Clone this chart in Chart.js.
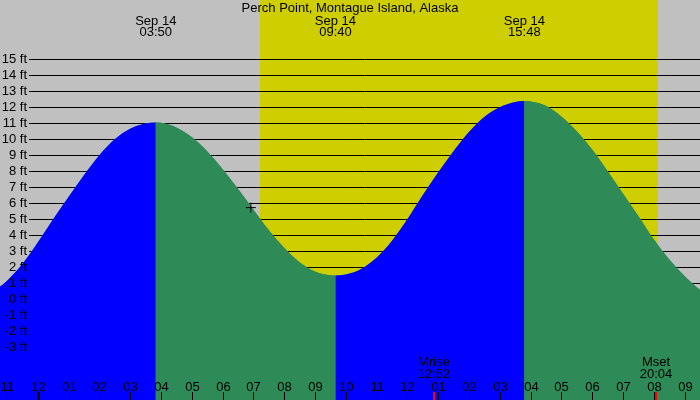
<!DOCTYPE html>
<html>
<head>
<meta charset="utf-8">
<title>Perch Point tides</title>
<script src="https://cdn.jsdelivr.net/npm/chart.js@4.4.1/dist/chart.umd.min.js"></script>
<style>
  html, body { margin: 0; padding: 0; background: #c0c0c0; }
  canvas { display: block; }
</style>
</head>
<body>
<canvas id="myChart" width="700" height="400"></canvas>
<script>
var title = 'Perch Point, Montague Island, Alaska';
var dateLabel = 'Sep 14';

// tide height in ft, time in hours from midnight Sep 14
var tideHours = [-1.5, -1, -0.5, 0, 0.5, 1, 1.5, 2, 2.5, 3, 3.5, 3.833,
    4, 4.5, 5, 5.5, 6, 6.5, 7, 7.5, 8, 8.5, 9, 9.5, 9.667,
    10, 10.5, 11, 11.5, 12, 12.5, 13, 13.5, 14, 14.5, 15, 15.5, 15.8,
    16, 16.5, 17, 17.5, 18, 18.5, 19, 19.5, 20, 20.5, 21, 21.5, 22];
var tideFeet = [0.4, 1.15, 2.2, 3.55, 5.0, 6.4, 7.75, 9.0, 10.0, 10.66, 10.99, 11.05,
    11.03, 10.74, 10.14, 9.25, 8.14, 6.91, 5.62, 4.33, 3.22, 2.32, 1.74, 1.5, 1.48,
    1.55, 1.9, 2.6, 3.65, 5.0, 6.5, 7.92, 9.25, 10.45, 11.4, 12.0, 12.33, 12.39,
    12.37, 12.1, 11.43, 10.51, 9.36, 8.02, 6.62, 5.21, 3.75, 2.5, 1.45, 0.6, 0.1];

// high / low tide times shown at the top
var extremeTimes = ['03:50', '09:40', '15:48'];

// hour ticks along the bottom, first one is 11 pm the day before
var firstHour = -1;
var hourLabels = ['11', '12', '01', '02', '03', '04', '05', '06', '07', '08', '09', '10',
    '11', '12', '01', '02', '03', '04', '05', '06', '07', '08', '09'];

var footLabels = [-3, -2, -1, 0, 1, 2, 3, 4, 5, 6, 7, 8, 9, 10, 11, 12, 13, 14, 15];

var sunTimes = ['07:13', '20:08'];
var moonNames = ['Mrise', 'Mset'];
var moonTimes = ['12:52', '20:04'];

// the little cross on the curve
var markerHours = [6.92];
var markerFeet = [5.73];

var FONT = '13px "Liberation Sans", Arial, sans-serif';
var RISING = '#0000ff';
var FALLING = '#2e8b57';

function toHours(s) {
    var p = s.split(':');
    return parseInt(p[0], 10) + parseInt(p[1], 10) / 60;
}

var tidePoints = [];
for (var i = 0; i < tideHours.length; i++) {
    tidePoints.push({x: tideHours[i], y: tideFeet[i]});
}
var markerPoints = [];
for (var i = 0; i < markerHours.length; i++) {
    markerPoints.push({x: markerHours[i], y: markerFeet[i]});
}

var tideDecor = {
    id: 'tideDecor',
    beforeDatasetsDraw: function (chart) {
        var ctx = chart.ctx;
        var xs = chart.scales.x;
        var ys = chart.scales.y;
        ctx.save();
        ctx.fillStyle = '#c0c0c0';
        ctx.fillRect(0, 0, chart.width, chart.height);
        // daylight
        var sx0 = Math.round(xs.getPixelForValue(toHours(sunTimes[0])));
        var sx1 = Math.round(xs.getPixelForValue(toHours(sunTimes[1])));
        ctx.fillStyle = '#cece00';
        ctx.fillRect(sx0, 0, sx1 - sx0, chart.height);
        // foot lines
        ctx.strokeStyle = '#000';
        ctx.lineWidth = 1;
        ctx.beginPath();
        for (var i = 0; i < footLabels.length; i++) {
            var py = Math.round(ys.getPixelForValue(footLabels[i])) + 0.5;
            ctx.moveTo(29, py);
            ctx.lineTo(chart.width, py);
        }
        ctx.stroke();
        ctx.restore();
    },
    afterDatasetsDraw: function (chart) {
        var ctx = chart.ctx;
        var xs = chart.scales.x;
        var ys = chart.scales.y;
        var h = chart.height;
        ctx.save();
        ctx.font = FONT;
        ctx.fillStyle = '#000';

        // y labels
        ctx.textAlign = 'right';
        ctx.textBaseline = 'middle';
        for (var i = 0; i < footLabels.length; i++) {
            var py = Math.round(ys.getPixelForValue(footLabels[i])) + 0.5;
            ctx.fillText(footLabels[i] + ' ft', 27, py);
        }

        // hour ticks and labels
        ctx.textAlign = 'center';
        ctx.textBaseline = 'alphabetic';
        for (var i = 0; i < hourLabels.length; i++) {
            var hr = firstHour + i;
            var px = Math.round(xs.getPixelForValue(hr));
            var w = (hr % 24 === 0) ? 3 : 1;
            ctx.fillRect(px - Math.floor(w / 2), 392, w, h - 392);
            ctx.fillText(hourLabels[i], px + 0.5, 391);
        }

        // moon rise / set
        for (var i = 0; i < moonTimes.length; i++) {
            var px = Math.round(xs.getPixelForValue(toHours(moonTimes[i])));
            ctx.fillStyle = '#ff0000';
            ctx.fillRect(px - 1, 392, 2, h - 392);
            ctx.fillStyle = '#000';
            ctx.fillText(moonNames[i], px, 366);
            ctx.fillText(moonTimes[i], px, 378);
        }

        // title and tide times
        ctx.fillText(title, 350, 12);
        for (var i = 0; i < extremeTimes.length; i++) {
            var px = xs.getPixelForValue(toHours(extremeTimes[i]));
            ctx.fillText(dateLabel, px, 25);
            ctx.fillText(extremeTimes[i], px, 36);
        }
        ctx.restore();
    }
};

var ctx = document.getElementById('myChart').getContext('2d');
var chart = new Chart(ctx, {
    type: 'line',
    data: {
        datasets: [{
            // marker on top
            type: 'scatter',
            data: markerPoints,
            pointStyle: 'cross',
            pointRadius: 5,
            borderColor: '#000',
            borderWidth: 1,
            order: 0
        }, {
            // rising = blue, falling = green
            data: tidePoints,
            fill: 'start',
            borderColor: 'transparent',
            borderWidth: 0,
            pointRadius: 0,
            cubicInterpolationMode: 'monotone',
            backgroundColor: RISING,
            segment: {
                backgroundColor: function (c) {
                    return c.p1.parsed.y > c.p0.parsed.y ? RISING : FALLING;
                }
            },
            order: 1
        }, {
            // same curve underneath so the segment seams don't show
            data: tidePoints,
            fill: 'start',
            borderColor: 'transparent',
            borderWidth: 0,
            pointRadius: 0,
            cubicInterpolationMode: 'monotone',
            backgroundColor: FALLING,
            order: 2
        }]
    },
    options: {
        responsive: false,
        animation: false,
        events: [],
        layout: {padding: 0, autoPadding: false},
        scales: {
            x: {type: 'linear', min: -1.224, max: 21.503, display: false},
            y: {type: 'linear', min: -6.294, max: 18.706, display: false}
        },
        plugins: {
            legend: {display: false},
            tooltip: {enabled: false}
        }
    },
    plugins: [tideDecor]
});
</script>
</body>
</html>
